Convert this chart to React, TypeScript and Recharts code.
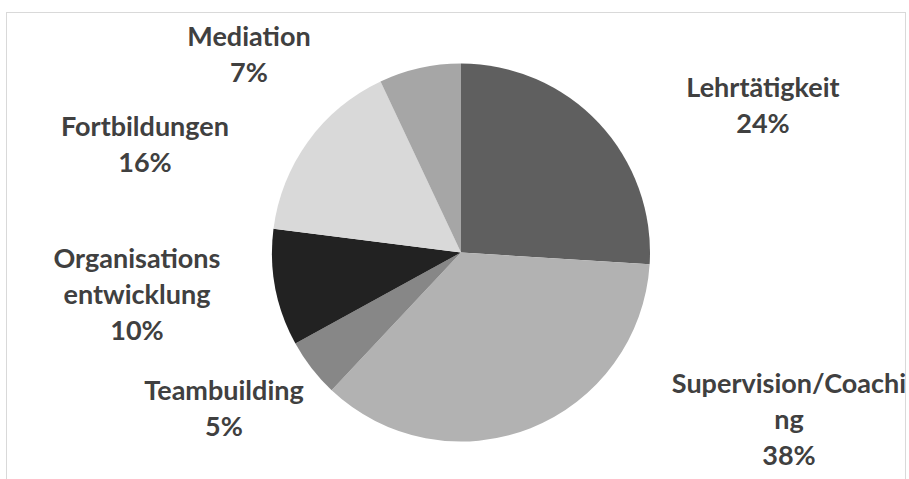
import { PieChart, Pie, Cell } from "recharts";

// categories clockwise from 12 o'clock
const categories = [
  "Lehrtätigkeit",
  "Supervision/Coaching",
  "Teambuilding",
  "Organisationsentwicklung",
  "Fortbildungen",
  "Mediation",
];
// wedge sizes as they are drawn in the picture
const shares = [26, 36, 5, 10, 16, 7];
// percentages printed in the labels
const shownPercent = [24, 38, 5, 10, 16, 7];

const colors = ["#5f5f5f", "#b2b2b2", "#878787", "#222222", "#d9d9d9", "#a6a6a6"];

// where the data labels sit (Excel "best fit" placement, wrapped like the original)
const labelLayout = [
  { x: 763, y: 97, lines: ["Lehrtätigkeit"] },
  { x: 789, y: 393, lines: ["Supervision/Coachi", "ng"] },
  { x: 224, y: 400, lines: ["Teambuilding"] },
  { x: 137, y: 268, lines: ["Organisations", "entwicklung"] },
  { x: 145, y: 136, lines: ["Fortbildungen"] },
  { x: 249, y: 46, lines: ["Mediation"] },
];

const data = categories.map((name, i) => ({
  name,
  value: shares[i],
  pct: shownPercent[i],
}));

const LINE_H = 36;

const renderLabel = (props: any) => {
  const i = props.index;
  const pos = labelLayout[i];
  const lines = [...pos.lines, `${shownPercent[i]}%`];
  return (
    <text
      key={`lbl-${i}`}
      x={pos.x}
      y={pos.y}
      textAnchor="middle"
      fill="#404040"
      fontFamily="Lato, 'Open Sans', sans-serif"
      fontWeight="bold"
      fontSize={27}
    >
      {lines.map((l, k) => (
        <tspan key={k} x={pos.x} y={pos.y + k * LINE_H}>
          {l}
        </tspan>
      ))}
    </text>
  );
};

const App = () => {
  return (
    <div style={{ position: "absolute", left: 0, top: 0, width: 909, height: 479, background: "#fff", overflow: "hidden" }}>
      <div
        style={{
          position: "absolute",
          left: 6,
          top: 12,
          width: 900,
          height: 500,
          border: "1px solid #d9d9d9",
          boxSizing: "border-box",
        }}
      />
      <div style={{ position: "absolute", left: 0, top: 0 }}>
        <PieChart width={909} height={479} margin={{ top: 0, right: 0, bottom: 0, left: 0 }}>
          <Pie
            data={data}
            dataKey="value"
            nameKey="name"
            cx={461}
            cy={252.5}
            outerRadius={189}
            startAngle={90}
            endAngle={-270}
            stroke="none"
            labelLine={false}
            label={renderLabel}
            isAnimationActive={false}
          >
            {data.map((d, i) => (
              <Cell key={d.name} fill={colors[i]} />
            ))}
          </Pie>
        </PieChart>
      </div>
    </div>
  );
};

export default App;
